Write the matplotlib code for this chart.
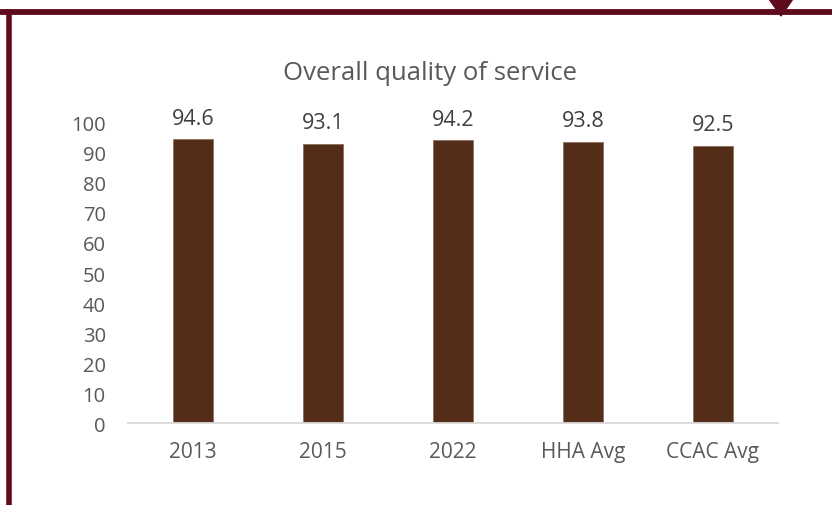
import matplotlib
matplotlib.use('Agg')
import matplotlib.pyplot as plt
from matplotlib.lines import Line2D
from matplotlib.patches import Polygon

categories = ['2013', '2015', '2022', 'HHA Avg', 'CCAC Avg']
scores = [94.6, 93.1, 94.2, 93.8, 92.5]
y_ticks = [0, 10, 20, 30, 40, 50, 60, 70, 80, 90, 100]

W, H = 832, 506
BAR = '#532D18'
MAROON = '#5E0B1D'
GREY = '#595959'

fig = plt.figure(figsize=(W / 100, H / 100), dpi=100)

# plot area in pixel coordinates of the original
left, right, top, bottom = 128, 778, 124, 424
ax = fig.add_axes([left / W, 1 - bottom / H, (right - left) / W, (bottom - top) / H])

x = range(len(categories))
ax.bar(x, scores, width=0.31, color=BAR, edgecolor='#8a6f5e', linewidth=0.6, zorder=2)

for xi, v in zip(x, scores):
    ax.annotate(f'{v}', (xi, v), xytext=(0, 11), textcoords='offset points',
                ha='center', va='baseline', fontsize=15.5, color='#404040',
                family='Open Sans')

ax.set_xlim(-0.5, len(categories) - 0.5)
ax.set_ylim(0, 100)
ax.set_yticks(y_ticks)
ax.set_xticks(list(x))
ax.set_xticklabels(categories)

for s in ['top', 'right', 'left']:
    ax.spines[s].set_visible(False)
ax.spines['bottom'].set_color('#D9D9D9')
ax.spines['bottom'].set_linewidth(1.3)
ax.tick_params(axis='both', length=0, colors=GREY)
ax.tick_params(axis='x', pad=13, labelsize=15)
ax.tick_params(axis='y', pad=16, labelsize=14.5)
for lab in ax.get_xticklabels() + ax.get_yticklabels():
    lab.set_family('Open Sans')

fig.text(430 / W, 1 - 74 / H, 'Overall quality of service', ha='center', va='center',
         fontsize=18.5, color=GREY, family='Open Sans')

# frame decoration
fig.add_artist(Line2D([0, 1], [1 - 12.5 / H, 1 - 12.5 / H], color=MAROON, lw=4.2,
                      transform=fig.transFigure))
fig.add_artist(Line2D([8.5 / W, 8.5 / W], [0, 1 - 12.5 / H], color=MAROON, lw=4.0,
                      transform=fig.transFigure, solid_capstyle='projecting'))
fig.add_artist(Polygon([[769 / W, 1.0], [793 / W, 1.0], [781 / W, 1 - 17 / H]],
                       closed=True, color=MAROON, transform=fig.transFigure))

fig.savefig('out.png', dpi=100)
